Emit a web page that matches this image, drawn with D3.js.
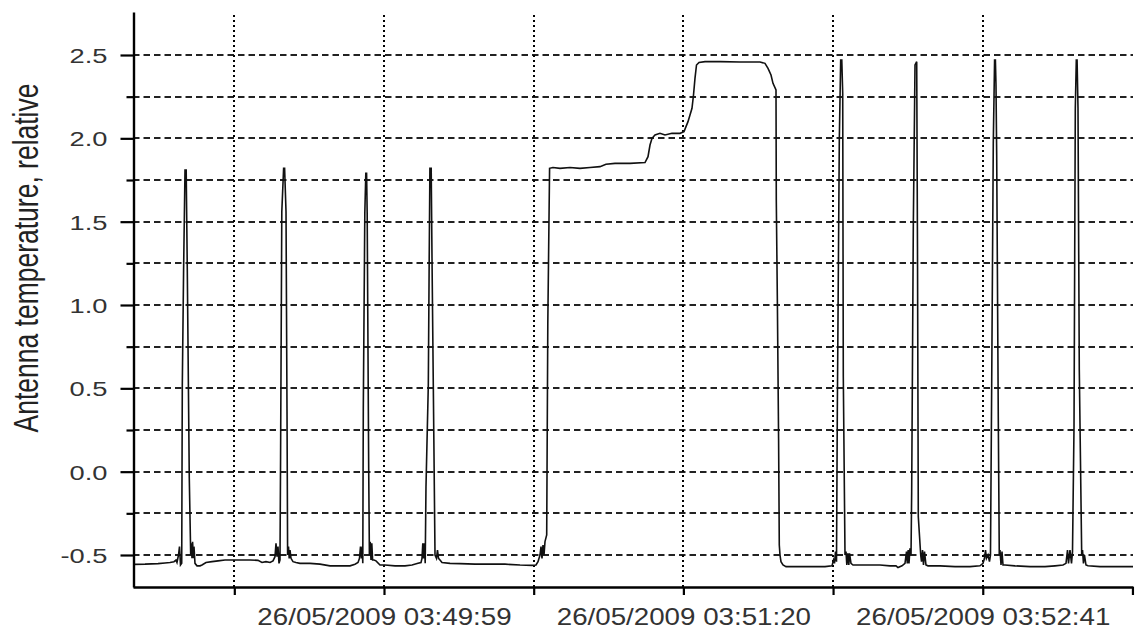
<!DOCTYPE html>
<html><head><meta charset="utf-8">
<script src="https://cdn.jsdelivr.net/npm/d3@7"></script>
<style>html,body{margin:0;padding:0;background:#fff;} svg{display:block}</style>
</head><body><svg id="chart" width="1135" height="630"></svg>
<script>
// time in seconds relative to 26/05/2009 03:49:59
const times = [
-67.91,-64.66,-61.15,-59.25,-57.90,-56.82,-56.28,-56.01,-55.60,-55.33,-55.06,
-54.73,-54.57,-54.22,-53.84,-53.52,-53.22,-52.68,-52.30,-52.16,-51.95,-51.79,-51.57,-51.41,-51.14,-50.59,-49.78,-49.24,
-48.16,-46.54,-44.91,-43.02,-40.31,-36.26,-34.09,-33.01,-31.93,-30.84,-30.03,-29.49,-29.22,-28.95,-28.68,-28.41,
-28.14,-27.98,-27.65,-27.16,-26.89,-26.51,-26.24,-26.08,-25.84,-25.65,-25.43,-25.16,-24.62,
-23.81,-22.73,-20.02,-17.32,-14.61,-11.90,-9.20,-7.85,-7.03,-6.63,-6.36,-6.09,-5.87,-5.74,
-5.60,-5.19,-4.92,-4.71,-4.55,-4.14,-3.95,-3.73,-3.52,-3.30,-3.08,-2.71,-2.16,
-1.08,0.27,2.98,5.68,7.58,9.20,10.01,10.28,10.50,10.71,10.93,11.15,
11.36,11.99,12.23,12.42,12.77,12.99,13.34,13.80,14.20,14.47,14.75,15.15,15.69,
17.86,20.56,24.62,28.68,32.74,36.80,40.04,41.13,41.67,42.21,42.48,42.75,43.02,43.29,43.56,
44.02,44.32,44.80,45.72,47.62,50.32,53.03,55.74,58.44,60.06,62.50,66.56,70.62,71.43,71.97,72.51,73.32,
74.67,76.03,77.92,80.09,81.17,81.71,82.25,82.79,83.33,83.74,84.14,84.55,85.23,86.85,90.91,96.32,101.73,
103.08,103.90,104.71,105.25,106.06,106.14,106.44,106.76,106.95,107.14,107.41,107.95,108.77,
111.20,115.26,119.32,121.21,121.62,121.89,122.16,122.43,
122.65,123.19,123.56,123.86,124.11,124.27,124.73,125.00,125.22,125.49,125.76,125.95,126.35,126.89,
128.79,131.49,134.20,136.90,138.53,139.07,140.15,140.96,141.37,141.58,141.83,142.04,142.31,142.59,
142.77,143.21,143.67,144.13,144.34,144.56,145.21,145.43,145.70,145.97,146.24,146.64,147.18,
150.43,154.49,158.55,161.25,162.07,162.47,162.74,163.01,163.42,163.82,164.09,
164.42,164.85,165.20,165.42,165.58,165.77,166.20,166.47,166.66,166.94,167.21,167.48,168.02,
170.72,174.78,178.84,181.55,183.71,184.52,184.93,185.20,185.60,186.01,186.28,
186.69,187.04,187.31,187.52,187.77,188.12,188.77,188.99,189.25,189.52,189.93,190.47,
193.72,197.78,202.65
];
const temps = [
-0.556,-0.555,-0.552,-0.548,-0.545,-0.54,-0.53,-0.545,-0.50,-0.45,-0.56,
-0.55,0.52,1.21,1.81,1.81,1.21,-0.04,-0.50,-0.43,-0.52,-0.42,-0.52,-0.45,-0.55,-0.565,-0.565,-0.56,
-0.545,-0.54,-0.535,-0.53,-0.53,-0.53,-0.532,-0.545,-0.54,-0.545,-0.535,-0.51,-0.43,-0.51,-0.45,-0.55,
-0.53,0.09,1.56,1.82,1.82,1.56,0.36,-0.50,-0.45,-0.52,-0.47,-0.52,-0.54,
-0.545,-0.55,-0.55,-0.555,-0.565,-0.565,-0.565,-0.555,-0.545,-0.52,-0.45,-0.52,-0.45,-0.55,
0.38,1.55,1.79,1.79,1.55,0.02,-0.50,-0.42,-0.53,-0.43,-0.53,-0.53,-0.535,
-0.56,-0.56,-0.565,-0.565,-0.56,-0.55,-0.545,-0.52,-0.43,-0.52,-0.43,-0.55,
-0.09,0.52,1.28,1.82,1.82,1.28,0.52,-0.50,-0.52,-0.47,-0.52,-0.53,-0.545,
-0.55,-0.552,-0.555,-0.555,-0.555,-0.56,-0.562,-0.56,-0.54,-0.50,-0.45,-0.52,-0.44,-0.50,-0.42,
-0.38,0.89,1.82,1.825,1.82,1.825,1.82,1.825,1.83,1.845,1.85,1.85,1.855,1.89,1.96,2.0,2.02,
2.03,2.02,2.03,2.03,2.04,2.07,2.10,2.14,2.18,2.26,2.36,2.44,2.455,2.46,2.46,2.458,2.458,
2.45,2.42,2.38,2.33,2.29,1.63,1.0,0.2,-0.44,-0.50,-0.54,-0.56,-0.57,
-0.57,-0.57,-0.57,-0.565,-0.53,-0.55,-0.48,-0.54,
0.36,1.99,2.47,2.47,2.27,0.57,-0.50,-0.48,-0.56,-0.49,-0.56,-0.49,-0.55,-0.56,
-0.56,-0.56,-0.56,-0.565,-0.565,-0.575,-0.565,-0.55,-0.48,-0.55,-0.47,-0.55,-0.46,-0.50,
-0.12,1.47,2.44,2.46,1.35,-0.27,-0.50,-0.54,-0.47,-0.56,-0.48,-0.56,-0.565,
-0.565,-0.57,-0.57,-0.565,-0.55,-0.52,-0.47,-0.52,-0.50,-0.54,-0.50,
0.53,1.97,2.47,2.47,2.32,1.9,0.33,-0.50,-0.47,-0.56,-0.48,-0.56,-0.56,
-0.565,-0.57,-0.57,-0.565,-0.56,-0.55,-0.47,-0.55,-0.47,-0.55,-0.48,
0.27,2.18,2.47,2.47,2.18,0.61,-0.50,-0.47,-0.55,-0.50,-0.56,-0.565,
-0.57,-0.57,-0.57
];
const xTickValues = [-40.5, 0, 40.5, 81, 121.5, 162, 202.5];
const xTickLabels = ["", "26/05/2009 03:49:59", "", "26/05/2009 03:51:20", "", "26/05/2009 03:52:41", ""];
const xGridValues = [-40.5, 0, 40.5, 81, 121.5, 162];
const yMajorTicks = [-0.5, 0, 0.5, 1, 1.5, 2, 2.5];
const yTickLabels = ["-0.5", "0.0", "0.5", "1.0", "1.5", "2.0", "2.5"];
const yMinorTicks = [-0.25, 0.25, 0.75, 1.25, 1.75, 2.25];
const yTitle = "Antenna temperature, relative";

const data = times.map((t, i) => ({t, v: temps[i]}));
const svg = d3.select("#chart");
const FONT = "'Liberation Sans', Arial, sans-serif";

const x = d3.scaleLinear().domain([-67.91, 202.65]).range([133, 1133]);
const y = d3.scaleLinear().domain([-0.692, 2.758]).range([587, 12]);

// horizontal dashed grid
const hGrid = yMajorTicks.concat(yMinorTicks);
svg.append("g").selectAll("line").data(hGrid).join("line")
  .attr("x1", x.range()[0]).attr("x2", x.range()[1])
  .attr("y1", d => Math.round(y(d))).attr("y2", d => Math.round(y(d)))
  .attr("stroke", "#222").attr("stroke-width", 2)
  .attr("stroke-dasharray", "6.5,4");

// vertical dotted grid
svg.append("g").selectAll("line").data(xGridValues).join("line")
  .attr("x1", d => Math.round(x(d))).attr("x2", d => Math.round(x(d)))
  .attr("y1", 15).attr("y2", 587)
  .attr("stroke", "#000").attr("stroke-width", 2)
  .attr("stroke-dasharray", "2,3");

// data line
const line = d3.line().x(d => x(d.t)).y(d => y(d.v));
svg.append("path").datum(data)
  .attr("d", line).attr("fill", "none")
  .attr("stroke", "#111").attr("stroke-width", 1.6)
  .attr("stroke-linejoin", "miter");

// y axis
const SY = 1.3;
const yAxis = svg.append("g").attr("transform", "translate(133.5,0)")
  .call(d3.axisLeft(y).tickValues(yMajorTicks).tickFormat((d, i) => yTickLabels[i])
        .tickSize(13).tickSizeOuter(0));
yAxis.select(".domain").attr("stroke", "#000").attr("stroke-width", 2.4);
yAxis.selectAll(".tick line").attr("stroke", "#000").attr("stroke-width", 2.2);
yAxis.selectAll(".tick text")
  .attr("font-family", FONT).attr("font-size", 21).attr("fill", "#333")
  .attr("x", -26 / SY).attr("dy", "0.36em")
  .attr("transform", `scale(${SY},1)`);
const yMinor = svg.append("g").attr("transform", "translate(133.5,0)")
  .call(d3.axisLeft(y).tickValues(yMinorTicks).tickFormat("").tickSize(7).tickSizeOuter(0));
yMinor.select(".domain").remove();
yMinor.selectAll(".tick line").attr("stroke", "#000").attr("stroke-width", 2.2);

// x axis
const SX = 1.18;
const xAxis = svg.append("g").attr("transform", "translate(0,587)")
  .call(d3.axisBottom(x).tickValues(xTickValues).tickFormat((d, i) => xTickLabels[i])
        .tickSize(8).tickPadding(13).tickSizeOuter(0));
xAxis.select(".domain").attr("stroke", "#000").attr("stroke-width", 2.4);
xAxis.selectAll(".tick line").attr("stroke", "#000").attr("stroke-width", 2.2);
xAxis.selectAll(".tick text")
  .attr("font-family", FONT).attr("font-size", 23.5).attr("fill", "#333")
  .attr("transform", `scale(${SX},1)`);

// y title
svg.append("text")
  .attr("transform", "translate(38,258) scale(1.3,1) rotate(-90)")
  .attr("text-anchor", "middle")
  .attr("font-family", FONT).attr("font-size", 26.5).attr("fill", "#222")
  .text(yTitle);
</script>
</body></html>
